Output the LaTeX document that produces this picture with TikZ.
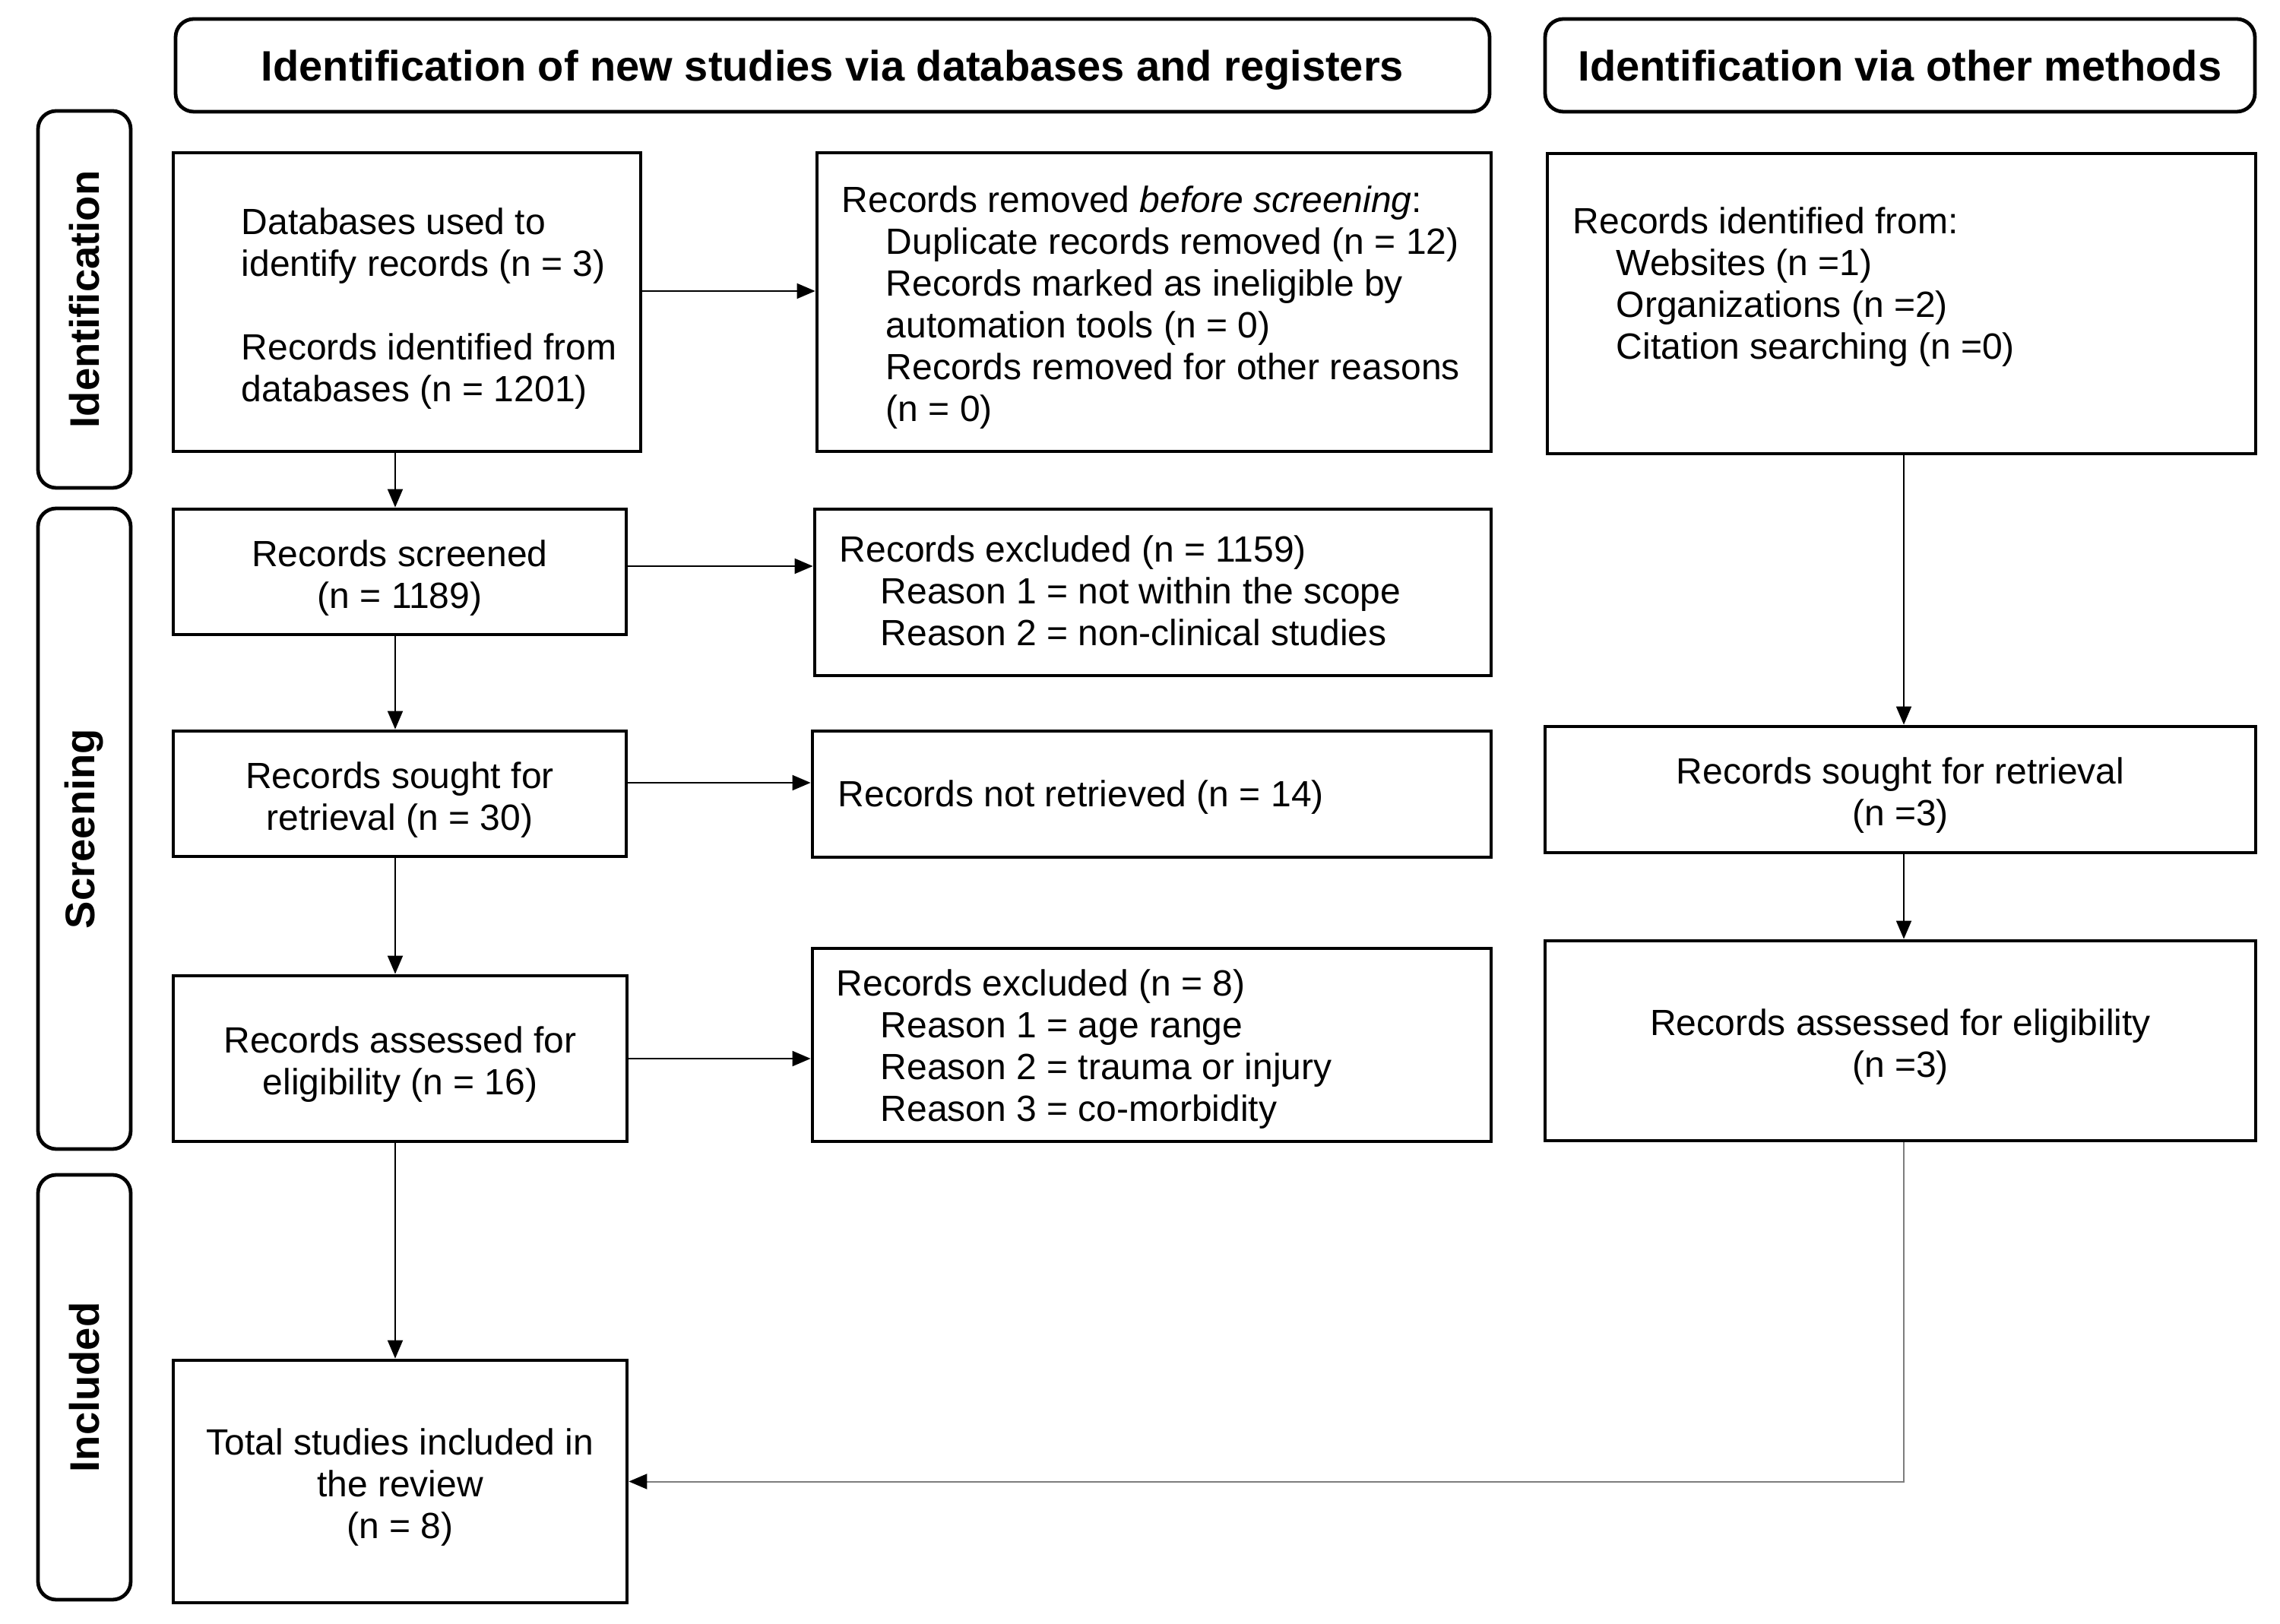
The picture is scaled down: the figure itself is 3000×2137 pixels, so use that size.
\documentclass[tikz,border=0pt]{standalone}
\usepackage{fontspec}
\setmainfont{Liberation Sans}
\usetikzlibrary{arrows.meta}
\definecolor{lgray}{RGB}{125,125,125}
\newcommand{\tstr}{\rule{0pt}{12.6pt}}
\begin{document}
\begin{tikzpicture}[x=0.25pt,y=-0.25pt,
  box/.style={draw, line width=1.2pt, inner sep=0pt, font=\fontsize{12}{13.75}\selectfont, align=center},
  head/.style={draw, line width=1.2pt, rounded corners=6pt, inner sep=0pt, text height=10.2pt, text depth=0pt, font=\fontsize{14}{16}\selectfont\bfseries},
  side/.style={draw, line width=1.2pt, rounded corners=6pt, inner sep=0pt, rotate=90, minimum height=30.5pt, font=\fontsize{13.6}{16}\selectfont\bfseries},
  txt/.style={inner sep=0pt, align=left, font=\fontsize{12}{13.75}\selectfont},
  arr/.style={line width=0.5pt, -{Triangle[length=6pt,width=5pt]}},
]
\fill[white] (0,0) rectangle (3000,2137);
\useasboundingbox (0,0) rectangle (3000,2137);

% headers
\node[head, minimum width=432.25pt, minimum height=30.5pt] (h1) at (1095.5,86) {Identification of new studies via databases and registers};
\node[head, minimum width=233.5pt, minimum height=30.5pt] (h2) at (2500,86) {Identification via other methods};

% side labels
\node[side, minimum width=124pt] (sid) at (111,394) {Identification};
\node[side, minimum width=210.75pt] (sscr) at (111,1090.5) {Screening};
\node[side, minimum width=139.75pt] (sinc) at (111,1825.5) {Included};

% left column
\node[box, minimum width=153.75pt, minimum height=98.25pt] (db) at (535.5,397.5) {};
\node[txt, anchor=north west] (dbT) at (317,273) {Databases used to\\identify records (n = 3)\\[13.75pt]Records identified from\\databases (n = 1201)};
\node[box, minimum width=149pt, minimum height=41.25pt] (scr) at (526,752.5) {\tstr Records screened\\(n = 1189)};
\node[box, minimum width=149pt, minimum height=41.25pt] (sgt) at (526,1044.5) {\tstr Records sought for\\retrieval (n = 30)};
\node[box, minimum width=149.25pt, minimum height=54.5pt] (ass) at (526.5,1393) {\tstr Records assessed for\\eligibility (n = 16)};
\node[box, minimum width=149.25pt, minimum height=79.75pt] (tot) at (526.5,1949.5) {\tstr Total studies included in\\the review\\(n = 8)};

% middle column
\node[box, minimum width=221.75pt, minimum height=98.25pt] (rem) at (1518.5,397.5) {};
\node[txt, anchor=north west] (remT) at (1107,244) {Records removed \textit{before screening}:\\\hspace*{14.5pt}Duplicate records removed (n = 12)\\\hspace*{14.5pt}Records marked as ineligible by\\\hspace*{14.5pt}automation tools (n = 0)\\\hspace*{14.5pt}Records removed for other reasons\\\hspace*{14.5pt}(n = 0)};
\node[box, minimum width=222.5pt, minimum height=54.75pt] (ex1) at (1517,779.5) {};
\node[txt, anchor=north west] (ex1T) at (1104,704) {Records excluded (n = 1159)\\\hspace*{13.5pt}Reason 1 = not within the scope\\\hspace*{13.5pt}Reason 2 = non-clinical studies};
\node[box, minimum width=223.25pt, minimum height=41.5pt] (nr) at (1515.5,1045) {};
\node[txt, anchor=base west] (nrT) at (1102,1062) {Records not retrieved (n = 14)};
\node[box, minimum width=223.25pt, minimum height=63.5pt] (ex2) at (1515.5,1375) {};
\node[txt, anchor=north west] (ex2T) at (1100,1275) {Records excluded (n = 8)\\\hspace*{14.5pt}Reason 1 = age range\\\hspace*{14.5pt}Reason 2 = trauma or injury\\\hspace*{14.5pt}Reason 3 = co-morbidity};

% right column
\node[box, minimum width=233pt, minimum height=98.75pt] (oth) at (2502,399.5) {};
\node[txt, anchor=north west] (othT) at (2069,272) {Records identified from:\\\hspace*{14.25pt}Websites (n =1)\\\hspace*{14.25pt}Organizations (n =2)\\\hspace*{14.25pt}Citation searching (n =0)};
\node[box, minimum width=233.75pt, minimum height=41.5pt] (osg) at (2500.5,1039) {\tstr Records sought for retrieval\\(n =3)};
\node[box, minimum width=233.75pt, minimum height=65.75pt] (oas) at (2500.5,1369.5) {\tstr Records assessed for eligibility\\(n =3)};

% helper coordinates
\coordinate (cl) at (520,0);
\coordinate (cr) at (2505,0);
\path (db.east) ++(0,-14.5) coordinate (a1);
\path (scr.east) ++(0,-7.5) coordinate (a2);
\path (sgt.east) ++(0,-14.5) coordinate (a3);

% horizontal arrows
\draw[arr] (a1) -- (a1 -| rem.west);
\draw[arr] (a2) -- (a2 -| ex1.west);
\draw[arr] (a3) -- (a3 -| nr.west);
\draw[arr] (ass.east) -- (ass.east -| ex2.west);

% vertical arrows left
\draw[arr] (db.south -| cl) -- (scr.north -| cl);
\draw[arr] (scr.south -| cl) -- (sgt.north -| cl);
\draw[arr] (sgt.south -| cl) -- (ass.north -| cl);
\draw[arr] (ass.south -| cl) -- (tot.north -| cl);

% right column arrows
\draw[arr] (oth.south -| cr) -- (osg.north -| cr);
\draw[arr] (osg.south -| cr) -- (oas.north -| cr);
\draw[line width=0.5pt, lgray, -{Triangle[length=6pt,width=5pt,color=black]}] (oas.south -| cr) |- (tot.east);
\end{tikzpicture}
\end{document}
